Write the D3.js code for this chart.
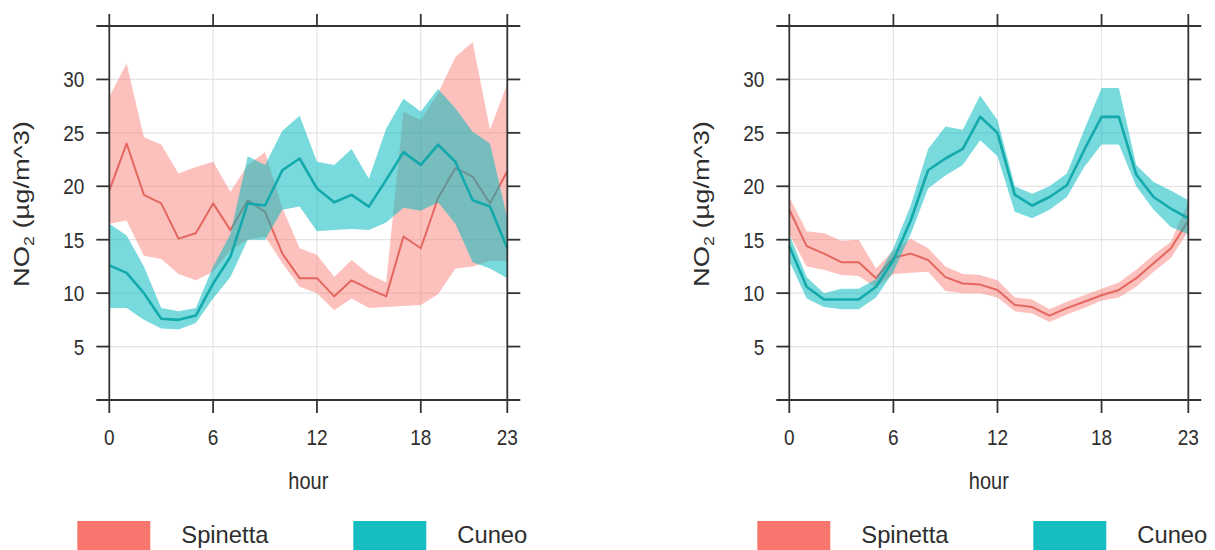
<!DOCTYPE html>
<html>
<head>
<meta charset="utf-8">
<script src="https://cdn.jsdelivr.net/npm/d3@7"></script>
<style>
  html, body { margin: 0; padding: 0; background: #fff; }
  svg { display: block; }
  text { font-family: "Liberation Sans", Arial, sans-serif; fill: #2e2e2e; }
</style>
</head>
<body>
<svg id="chart" width="1215" height="550"></svg>
<script>
// Diurnal NO2 profiles (hourly means with confidence bands) at two sites
const hours = d3.range(0, 24);
const sites = ["Spinetta", "Cuneo"];
const xTicks = [0, 6, 12, 18, 23];
const yTicks = [5, 10, 15, 20, 25, 30];
const yLabel = "NO2 (µg/m^3)";
const xLabel = "hour";

// Panel A
const spinettaA      = [19.6, 24.0, 19.2, 18.4, 15.1, 15.6, 18.4, 15.9, 18.7, 17.6, 13.7, 11.4, 11.4, 9.7, 11.2, 10.4, 9.7, 15.3, 14.2, 18.9, 21.7, 20.9, 18.4, 21.4];
const spinettaA_up   = [28.4, 31.5, 24.6, 23.9, 21.2, 21.8, 22.3, 19.5, 22.0, 23.2, 18.0, 14.2, 13.6, 11.5, 13.1, 11.8, 11.0, 27.0, 26.2, 28.7, 32.1, 33.5, 25.3, 29.6];
const spinettaA_lo   = [16.5, 16.8, 13.5, 13.2, 11.8, 11.2, 12.0, 14.0, 15.0, 15.3, 12.8, 10.6, 10.0, 8.4, 9.5, 8.6, 8.7, 8.8, 8.9, 9.9, 12.3, 12.5, 13.0, 13.0];
const cuneoA         = [12.6, 11.9, 10.0, 7.6, 7.5, 7.9, 10.9, 13.4, 18.4, 18.2, 21.5, 22.6, 19.8, 18.5, 19.2, 18.1, 20.6, 23.2, 22.0, 23.9, 22.3, 18.7, 18.1, 14.2];
const cuneoA_up      = [16.5, 15.4, 12.5, 8.6, 8.3, 8.6, 12.5, 15.5, 22.8, 22.0, 25.2, 26.6, 22.3, 22.0, 23.5, 20.7, 25.4, 28.2, 27.0, 29.1, 27.3, 25.1, 24.0, 17.0];
const cuneoA_lo      = [8.6, 8.6, 7.5, 6.7, 6.6, 7.2, 9.5, 11.5, 15.0, 15.0, 17.8, 18.1, 15.8, 15.9, 16.0, 15.9, 16.6, 18.0, 17.7, 18.5, 16.5, 12.9, 12.3, 11.4];

// Panel B
const spinettaB      = [17.8, 14.4, 13.7, 12.9, 12.9, 11.4, 13.3, 13.7, 13.1, 11.5, 10.9, 10.8, 10.3, 8.9, 8.7, 7.9, 8.6, 9.2, 9.8, 10.3, 11.4, 12.8, 14.2, 16.8];
const spinettaB_up   = [19.0, 15.8, 15.6, 14.9, 15.0, 12.3, 14.0, 15.1, 14.2, 12.5, 11.8, 11.7, 11.2, 9.6, 9.4, 8.5, 9.2, 9.8, 10.4, 11.0, 12.2, 13.6, 14.8, 18.5];
const spinettaB_lo   = [15.5, 12.5, 12.2, 11.7, 11.6, 10.5, 11.8, 11.9, 12.0, 10.2, 10.0, 10.0, 9.6, 8.3, 8.1, 7.3, 8.0, 8.6, 9.3, 9.6, 10.6, 12.0, 13.3, 15.8];
const cuneoB         = [14.4, 10.6, 9.4, 9.4, 9.4, 10.6, 13.1, 16.8, 21.5, 22.6, 23.5, 26.5, 25.0, 19.2, 18.2, 19.0, 20.1, 23.4, 26.5, 26.5, 21.1, 19.0, 17.9, 17.0];
const cuneoB_up      = [15.5, 11.5, 10.0, 10.4, 10.4, 11.3, 14.2, 18.2, 23.5, 25.6, 25.3, 28.5, 26.2, 20.0, 19.3, 20.0, 21.2, 25.3, 29.2, 29.2, 22.0, 20.4, 19.6, 18.7];
const cuneoB_lo      = [13.0, 9.5, 8.7, 8.5, 8.5, 9.6, 12.0, 15.5, 19.8, 21.0, 22.0, 24.3, 22.8, 17.6, 17.0, 17.8, 19.0, 21.8, 23.9, 23.9, 20.0, 17.8, 16.2, 15.5];

const lineColors = { Spinetta: "#E4675F", Cuneo: "#14A9AB" };
const bandColors = { Spinetta: "rgba(248,118,109,0.45)", Cuneo: "rgba(0,186,190,0.53)" };
const keyColors  = { Spinetta: "#F8766D", Cuneo: "#16BEC2" };

const panels = [
  { left: 109.3, right: 507.3,
    series: [
      { name: "Spinetta", mean: spinettaA, up: spinettaA_up, lo: spinettaA_lo },
      { name: "Cuneo",    mean: cuneoA,    up: cuneoA_up,    lo: cuneoA_lo }
    ] },
  { left: 789.3, right: 1188.3,
    series: [
      { name: "Spinetta", mean: spinettaB, up: spinettaB_up, lo: spinettaB_lo },
      { name: "Cuneo",    mean: cuneoB,    up: cuneoB_up,    lo: cuneoB_lo }
    ] }
];

const yTop = 26, yBottom = 400;
const y = d3.scaleLinear().domain([0, 35]).range([yBottom, yTop]);
const svg = d3.select("#chart");
const frame = "#333";
const sy = 1.18; // text is drawn slightly taller than wide

panels.forEach(p => {
  const x = d3.scaleLinear().domain([0, 23]).range([p.left, p.right]);
  const g = svg.append("g");

  // grid
  g.selectAll("line.gx").data([6, 12, 18]).join("line")
    .attr("x1", d => x(d)).attr("x2", d => x(d))
    .attr("y1", yTop).attr("y2", yBottom)
    .attr("stroke", "#e4e4e4").attr("stroke-width", 1.2);
  g.selectAll("line.gy").data(yTicks).join("line")
    .attr("x1", p.left).attr("x2", p.right)
    .attr("y1", d => y(d)).attr("y2", d => y(d))
    .attr("stroke", "#e4e4e4").attr("stroke-width", 1.2);

  // bands and lines, one site after the other
  const area = d3.area().x((d, i) => x(hours[i])).y0(d => y(d[0])).y1(d => y(d[1]));
  const line = d3.line().x((d, i) => x(hours[i])).y(d => y(d));
  p.series.forEach(s => {
    g.append("path")
      .datum(s.lo.map((v, i) => [v, s.up[i]]))
      .attr("d", area)
      .attr("fill", bandColors[s.name]);
    g.append("path")
      .datum(s.mean)
      .attr("d", line)
      .attr("fill", "none")
      .attr("stroke", lineColors[s.name])
      .attr("stroke-width", s.name === "Cuneo" ? 2.6 : 2)
      .attr("stroke-linejoin", "round");
  });

  // frame
  const ext = 13;
  g.append("line").attr("x1", p.left - ext).attr("x2", p.right + ext)
    .attr("y1", yTop).attr("y2", yTop).attr("stroke", frame).attr("stroke-width", 1.8);
  g.append("line").attr("x1", p.left - ext).attr("x2", p.right + ext)
    .attr("y1", yBottom).attr("y2", yBottom).attr("stroke", frame).attr("stroke-width", 1.8);
  g.append("line").attr("x1", p.left).attr("x2", p.left)
    .attr("y1", yTop - 12).attr("y2", yBottom + 13).attr("stroke", frame).attr("stroke-width", 1.8);
  g.append("line").attr("x1", p.right).attr("x2", p.right)
    .attr("y1", yTop - 12).attr("y2", yBottom + 13).attr("stroke", frame).attr("stroke-width", 1.8);

  // ticks
  g.selectAll("line.tx").data([6, 12, 18]).join("line")
    .attr("x1", d => x(d)).attr("x2", d => x(d))
    .attr("y1", yTop - 12).attr("y2", yTop).attr("stroke", frame).attr("stroke-width", 1.8);
  g.selectAll("line.bx").data([6, 12, 18]).join("line")
    .attr("x1", d => x(d)).attr("x2", d => x(d))
    .attr("y1", yBottom).attr("y2", yBottom + 13).attr("stroke", frame).attr("stroke-width", 1.8);
  g.selectAll("line.ly").data(yTicks).join("line")
    .attr("x1", p.left - ext).attr("x2", p.left)
    .attr("y1", d => y(d)).attr("y2", d => y(d)).attr("stroke", frame).attr("stroke-width", 1.8);
  g.selectAll("line.ry").data(yTicks).join("line")
    .attr("x1", p.right).attr("x2", p.right + ext)
    .attr("y1", d => y(d)).attr("y2", d => y(d)).attr("stroke", frame).attr("stroke-width", 1.8);

  // tick labels
  g.selectAll("text.xl").data(xTicks).join("text")
    .attr("text-anchor", "middle").attr("font-size", 19)
    .attr("transform", d => `translate(${x(d)},445) scale(1,${sy})`)
    .text(d => d);
  g.selectAll("text.yl").data(yTicks).join("text")
    .attr("text-anchor", "end").attr("font-size", 19)
    .attr("transform", d => `translate(${p.left - 25},${y(d) + 8}) scale(1,${sy})`)
    .text(d => d);

  // axis titles
  g.append("text").attr("text-anchor", "middle").attr("font-size", 20)
    .attr("transform", `translate(${(p.left + p.right) / 2},489) scale(1,${sy})`)
    .text(xLabel);
  const yt = g.append("text").attr("text-anchor", "middle").attr("font-size", 21.5)
    .attr("transform", `translate(${p.left - 80},${(yTop + yBottom) / 2 - 9}) scale(1,1.27) rotate(-90)`);
  yt.append("tspan").text("NO");
  yt.append("tspan").attr("font-size", 14).attr("dy", 5).text("2");
  yt.append("tspan").attr("dy", -5).text(yLabel.replace("NO2", ""));

  // key
  const keyX = [p.left - 32, p.left + 244];
  sites.forEach((s, i) => {
    g.append("rect").attr("x", keyX[i]).attr("y", 521).attr("width", 73).attr("height", 35)
      .attr("fill", keyColors[s]);
    g.append("text").attr("font-size", 22)
      .attr("transform", `translate(${keyX[i] + 104},543) scale(1.08,1.1)`)
      .text(s);
  });
});
</script>
</body>
</html>
